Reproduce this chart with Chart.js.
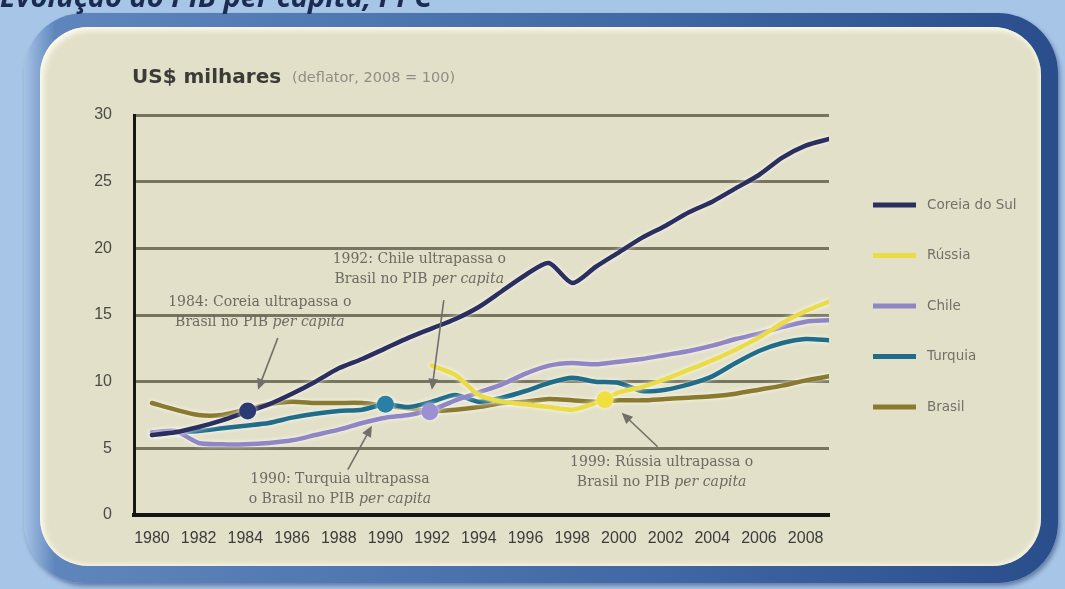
<!DOCTYPE html>
<html>
<head>
<meta charset="utf-8">
<script src="https://cdn.jsdelivr.net/npm/chart.js@4.4.1/dist/chart.umd.min.js"></script>
<style>
html,body{margin:0;padding:0;width:1065px;height:589px;overflow:hidden;background:#a7c5e6}
.frame{position:absolute;left:24px;top:13px;width:1034px;height:570px;border-radius:60px;
  background:linear-gradient(90deg,#a6c3e5 0%,#5f86bc 3%,#4069a5 60%,#2a4d8b 100%);
  box-shadow:2px 3px 4px rgba(20,40,90,.45)}
.inner{position:absolute;left:40px;top:27px;width:1001px;height:539px;border-radius:48px;background:#e3e0c9;
  box-shadow:inset 3px 3px 6px rgba(255,255,240,.95), inset -2px -2px 4px rgba(255,255,240,.6)}
canvas{position:absolute;left:0;top:0}
</style>
</head>
<body>
<div class="frame"></div>
<div class="inner"></div>
<canvas id="c" width="1065" height="589"></canvas>
<script>
// ---- data (US$ milhares, deflator 2008 = 100) ----
const years = [1980,1981,1982,1983,1984,1985,1986,1987,1988,1989,1990,1991,1992,1993,1994,1995,1996,1997,1998,1999,2000,2001,2002,2003,2004,2005,2006,2007,2008,2009];
const tickYears = [1980,1982,1984,1986,1988,1990,1992,1994,1996,1998,2000,2002,2004,2006,2008];
const yTicks = [0,5,10,15,20,25,30];

const coreiaDoSul = [6.0,6.2,6.6,7.1,7.7,8.3,9.1,10.0,11.0,11.7,12.5,13.3,14.0,14.7,15.6,16.8,18.0,18.9,17.4,18.6,19.7,20.8,21.7,22.7,23.5,24.5,25.5,26.8,27.7,28.2];
const russia = [null,null,null,null,null,null,null,null,null,null,null,null,11.2,10.5,9.0,8.5,8.3,8.1,7.9,8.4,9.2,9.6,10.2,10.9,11.6,12.4,13.3,14.4,15.3,16.0];
const chile = [6.2,6.3,5.4,5.3,5.3,5.4,5.6,6.0,6.4,6.9,7.3,7.5,7.9,8.6,9.2,9.8,10.6,11.2,11.4,11.3,11.5,11.7,12.0,12.3,12.7,13.2,13.6,14.1,14.5,14.6];
const turquia = [6.0,6.2,6.3,6.5,6.7,6.9,7.3,7.6,7.8,7.9,8.3,8.1,8.5,9.0,8.5,8.8,9.3,9.9,10.3,10.0,9.9,9.3,9.4,9.8,10.4,11.4,12.3,12.9,13.2,13.1];
const brasil = [8.4,7.9,7.5,7.5,7.9,8.3,8.5,8.4,8.4,8.4,8.2,8.0,7.8,7.9,8.1,8.4,8.5,8.7,8.6,8.5,8.6,8.6,8.7,8.8,8.9,9.1,9.4,9.7,10.1,10.4];

// crossing markers (year, value)
const marcoAnos = [1984.1, 1990.0, 1991.9, 1999.4];
const marcoValores = [7.8, 8.3, 7.75, 8.65];

const seriesNames = ['Coreia do Sul','Rússia','Chile','Turquia','Brasil'];
const seriesValues = [coreiaDoSul, russia, chile, turquia, brasil];
const seriesColors = ['#2b2f5f','#eadc45','#9086c6','#1f6d8a','#8a7a30'];
const markerColors = ['#2b3a72','#2a7fa6','#9a90d2','#f0df3c'];

const toXY = arr => years.map((yr,i)=>({x:yr, y:arr[i]}));

const datasets = seriesNames.map((name,i)=>({
  label:name, data:toXY(seriesValues[i]), borderColor:seriesColors[i], backgroundColor:seriesColors[i],
  borderWidth:4.5, pointRadius:0, tension:0.25, fill:false, order:i+1, spanGaps:false,
  borderCapStyle:'round', borderJoinStyle:'round'
}));
datasets.unshift({
  label:'marcos', type:'scatter', data:marcoAnos.map((a,i)=>({x:a,y:marcoValores[i]})),
  pointRadius:8.5, pointBackgroundColor:markerColors, pointBorderColor:markerColors, pointBorderWidth:0,
  showLine:false, order:0, isMarker:true
});

// annotations (data coordinates)
const notas = [
  {x:1984.62, y1:15.97, y2:14.47, l1:'1984: Coreia ultrapassa o', l2a:'Brasil no PIB ', ax1:1985.39, ay1:13.28, ax2:1984.54, ay2:9.39},
  {x:1991.45, y1:19.18, y2:17.69, l1:'1992: Chile ultrapassa o', l2a:'Brasil no PIB ', ax1:1992.5, ay1:16.12, ax2:1991.99, ay2:9.39},
  {x:1988.05, y1:2.66, y2:1.16, l1:'1990: Turquia ultrapassa', l2a:'o Brasil no PIB ', ax1:1988.39, ay1:3.40, ax2:1989.42, ay2:6.69},
  {x:2001.83, y1:3.93, y2:2.43, l1:'1999: Rússia ultrapassa o', l2a:'Brasil no PIB ', ax1:2001.66, ay1:5.12, ax2:2000.12, ay2:7.67}
];

const decor = {
  id:'decor',
  beforeDraw(chart){
    const ctx = chart.ctx;
    ctx.save();
    ctx.fillStyle = '#1c2b50';
    ctx.font = 'italic bold 29px "Open Sans", sans-serif';
    ctx.textBaseline = 'alphabetic';
    ctx.fillText('Evolução do PIB per capita, PPC', 0, 7);
    ctx.fillStyle = '#3b3b38';
    ctx.font = 'bold 20px "DejaVu Sans", sans-serif';
    ctx.fillText('US$ milhares', 132, 83);
    ctx.fillStyle = '#8f8d85';
    ctx.font = '14.5px "DejaVu Sans", sans-serif';
    ctx.fillText('(deflator, 2008 = 100)', 292, 82);
    ctx.restore();
  },
  beforeDatasetDraw(chart, args){
    const ctx = chart.ctx;
    ctx.save();
    ctx.shadowColor = 'rgba(255,255,248,0.85)';
    ctx.shadowBlur = 4;
  },
  afterDatasetDraw(chart){
    chart.ctx.restore();
  },
  afterDatasetsDraw(chart){
    const ctx = chart.ctx, xs = chart.scales.x, ys = chart.scales.y;
    ctx.save();
    // annotations
    const reg = '14px "DejaVu Serif", serif';
    const ita = 'italic 14px "DejaVu Serif", serif';
    ctx.fillStyle = '#6c6b63';
    ctx.textBaseline = 'middle';
    notas.forEach(n=>{
      const cx = xs.getPixelForValue(n.x);
      ctx.font = reg; ctx.textAlign = 'center';
      ctx.fillText(n.l1, cx, ys.getPixelForValue(n.y1));
      ctx.textAlign = 'left';
      const wa = ctx.measureText(n.l2a).width;
      ctx.font = ita;
      const wb = ctx.measureText('per capita').width;
      const sx = cx - (wa+wb)/2, py = ys.getPixelForValue(n.y2);
      ctx.font = reg; ctx.fillText(n.l2a, sx, py);
      ctx.font = ita; ctx.fillText('per capita', sx+wa, py);
      // arrow
      const x1 = xs.getPixelForValue(n.ax1), y1 = ys.getPixelForValue(n.ay1);
      const x2 = xs.getPixelForValue(n.ax2), y2 = ys.getPixelForValue(n.ay2);
      const ang = Math.atan2(y2-y1, x2-x1), L = 11, W = 5;
      ctx.strokeStyle = '#706f69'; ctx.lineWidth = 1.6;
      ctx.beginPath(); ctx.moveTo(x1,y1); ctx.lineTo(x2 - Math.cos(ang)*L*0.6, y2 - Math.sin(ang)*L*0.6); ctx.stroke();
      ctx.fillStyle = '#706f69';
      ctx.beginPath();
      ctx.moveTo(x2,y2);
      ctx.lineTo(x2 - Math.cos(ang)*L + Math.sin(ang)*W, y2 - Math.sin(ang)*L - Math.cos(ang)*W);
      ctx.lineTo(x2 - Math.cos(ang)*L - Math.sin(ang)*W, y2 - Math.sin(ang)*L + Math.cos(ang)*W);
      ctx.closePath(); ctx.fill();
      ctx.fillStyle = '#6c6b63';
    });
    // legend
    const items = chart.data.datasets.filter(d=>!d.isMarker);
    ctx.textAlign = 'left'; ctx.textBaseline = 'middle';
    ctx.font = '13.5px "DejaVu Sans", sans-serif';
    items.forEach((d,i)=>{
      const y = 205 + i*50.5;
      ctx.strokeStyle = d.borderColor; ctx.lineWidth = 5; ctx.lineCap = 'butt';
      ctx.beginPath(); ctx.moveTo(873,y); ctx.lineTo(916,y); ctx.stroke();
      ctx.fillStyle = '#72716a';
      ctx.fillText(d.label, 927, y);
    });
    ctx.restore();
  }
};

new Chart(document.getElementById('c'), {
  type:'line',
  data:{datasets},
  options:{
    responsive:false, animation:false, devicePixelRatio:1,
    layout:{padding:{left:0,right:236,top:115,bottom:0}},
    plugins:{legend:{display:false}, tooltip:{enabled:false}},
    scales:{
      x:{type:'linear', min:1979.23, max:2009,
        afterBuildTicks:s=>{s.ticks = tickYears.map(v=>({value:v}));},
        afterFit:s=>{s.height = 74;},
        grid:{display:false, drawTicks:false},
        border:{display:true, color:'#161616', width:4},
        ticks:{padding:14, color:'#3c3c3a', autoSkip:false, maxRotation:0,
          font:{size:16, family:'"Liberation Sans", Arial, sans-serif'}, callback:v=>String(v)}
      },
      y:{min:0, max:30,
        afterBuildTicks:s=>{s.ticks = yTicks.map(v=>({value:v}));},
        afterFit:s=>{s.width = 134;},
        grid:{color:'#77745f', lineWidth:3, drawTicks:false},
        border:{display:true, color:'#161616', width:3},
        ticks:{padding:22, color:'#4a4a46', font:{size:16, family:'"Liberation Sans", Arial, sans-serif'}}
      }
    }
  },
  plugins:[decor]
});
</script>
</body>
</html>
